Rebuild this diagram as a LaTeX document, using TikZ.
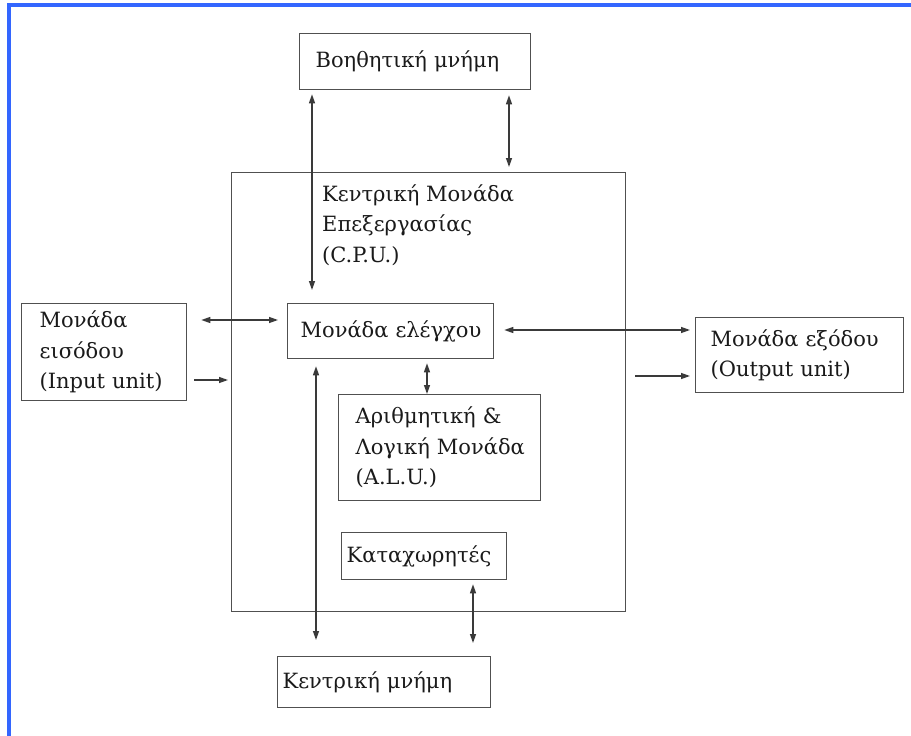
\documentclass[tikz,border=0pt]{standalone}
\usepackage{fontspec}
\setmainfont{DejaVu Serif}
\usetikzlibrary{arrows.meta}
\definecolor{frameblue}{HTML}{3366FF}
\definecolor{ink}{HTML}{3A3A3A}
\definecolor{boxline}{HTML}{505050}
\definecolor{txt}{HTML}{1A1A1A}
\begin{document}
\begin{tikzpicture}[x=1pt,y=-1pt,
  font=\rmfamily\fontsize{21}{30.5}\selectfont,
  >={Triangle[length=9pt,width=6pt]},
  box/.style 2 args={draw=boxline, line width=1.3pt, rectangle, anchor=north west,
    inner xsep=#1, inner ysep=0pt, text width=#2, align=left, text=txt},
  conn/.style={draw=ink, line width=1.3pt}]
% canvas and blue frame
\fill[white] (0,0) rectangle (911,736);
\fill[frameblue] (7,3) rectangle (911,7);
\fill[frameblue] (7,3) rectangle (11,736);

% boxes
\node[draw=boxline, line width=1.3pt, rectangle, anchor=north west, inner sep=0pt,
  minimum width=394pt, minimum height=439pt] (cpu) at (231,172) {};
\node[anchor=west, align=left, inner sep=0pt, text=txt] (cputext) at (322,225)
  {Κεντρική~Μονάδα\\Επεξεργασίας\\(C.P.U.)};
\node[box={16pt}{199pt}, minimum height=56pt] (aux) at (299,33) {Βοηθητική~μνήμη};
\node[box={18pt}{129pt}, minimum height=97pt] (input) at (21,303) {Μονάδα\\εισόδου\\(Input~unit)};
\node[box={13pt}{180pt}, minimum height=55pt] (ctrl) at (287,303) {Μονάδα~ελέγχου};
\node[box={15pt}{178pt}, minimum height=75pt] (output) at (695,317) {Μονάδα~εξόδου\\(Output~unit)};
\node[box={17pt}{168pt}, minimum height=106pt] (alu) at (338,394) {Αριθμητική~\&\\Λογική~Μονάδα\\(A.L.U.)};
\node[box={5pt}{155pt}, minimum height=47pt] (reg) at (341,532) {Καταχωρητές};
\node[box={5pt}{203pt}, minimum height=51pt] (mem) at (277,656) {Κεντρική~μνήμη};

% helper lines for connector positions
\coordinate (xa) at (312,0);
\coordinate (xb) at (509,0);
\coordinate (xc) at (427,0);
\coordinate (xd) at (316,0);
\coordinate (xe) at (473,0);
\coordinate (ya) at (0,320);
\coordinate (yb) at (0,380);
\coordinate (yc) at (0,330);
\coordinate (yd) at (0,376);

% connectors
\draw[conn,<->,shorten <=4pt,shorten >=13pt] (aux.south -| xa) -- (ctrl.north -| xa);
\draw[conn,<->,shorten <=5pt,shorten >=5pt] (aux.south -| xb) -- (cpu.north -| xb);
\draw[conn,<->,shorten <=14pt,shorten >=9pt] (input.east |- ya) -- (ctrl.west |- ya);
\draw[conn,->,shorten <=7pt,shorten >=3pt] (input.east |- yb) -- (cpu.west |- yb);
\draw[conn,<->,shorten <=10pt,shorten >=5pt] (ctrl.east |- yc) -- (output.west |- yc);
\draw[conn,->,shorten <=9pt,shorten >=5pt] (cpu.east |- yd) -- (output.west |- yd);
\draw[conn,<->,shorten <=4pt] (ctrl.south -| xc) -- (alu.north -| xc);
\draw[conn,<->,shorten <=7pt,shorten >=16pt] (ctrl.south -| xd) -- (mem.north -| xd);
\draw[conn,<->,shorten <=4pt,shorten >=13pt] (reg.south -| xe) -- (mem.north -| xe);
\end{tikzpicture}
\end{document}
